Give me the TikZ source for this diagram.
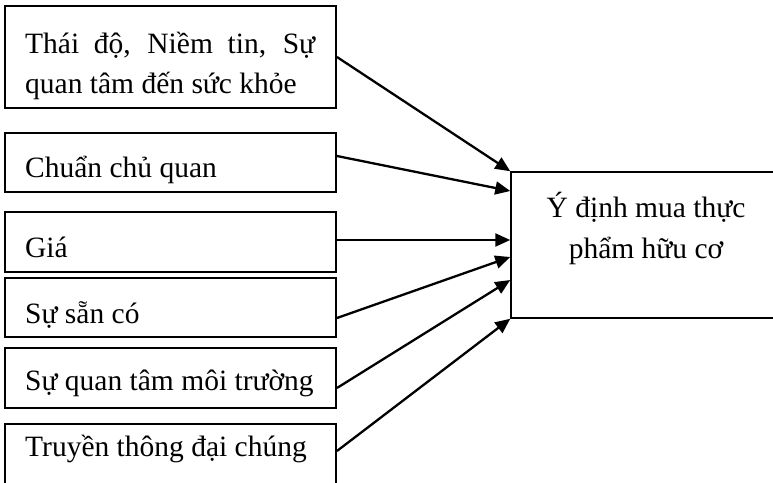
\documentclass[tikz,border=0pt]{standalone}
\usepackage{fontspec}
\setmainfont{Liberation Serif}
\usetikzlibrary{arrows.meta}
\tikzset{
  box/.style={draw, line width=1.9pt, inner sep=0pt, minimum width=331pt},
  tgtbox/.style={draw, line width=1.5pt, inner sep=0pt, minimum width=289pt, minimum height=146pt},
  lbl/.style={anchor=base west, inner sep=0pt, font=\fontsize{29.5pt}{40pt}\selectfont},
  rlbl/.style={anchor=base, inner sep=0pt, font=\fontsize{29.5pt}{41pt}\selectfont},
  link/.style={line width=2.3pt, -{Triangle[length=15pt,width=13pt]}}
}
\begin{document}
\begin{tikzpicture}[x=1pt,y=-1pt]
\useasboundingbox (0,0) rectangle (773,482);
\clip (0,0) rectangle (773,482);
% left boxes
\node[box, minimum height=102pt] (b1) at (170.5,57) {};
\node[box, minimum height=59pt] (b2) at (170.5,162.5) {};
\node[box, minimum height=60pt] (b3) at (170.5,242) {};
\node[box, minimum height=59pt] (b4) at (170.5,307.5) {};
\node[box, minimum height=60pt] (b5) at (170.5,378) {};
\node[box, minimum height=70pt] (b6) at (170.5,459) {};
% target box
\node[tgtbox] (t) at (655.5,245) {};
% labels
\node[lbl] (l1) at (25,53) {\vtop{\baselineskip=40pt\hbox{\makebox[290pt][s]{Thái độ, Niềm tin, Sự}}\hbox{quan tâm đến sức khỏe}}};
\node[lbl] (l2) at (25,177) {Chuẩn chủ quan};
\node[lbl] (l3) at (25,257) {Giá};
\node[lbl] (l4) at (25,323) {Sự sẵn có};
\node[lbl] (l5) at (25,390) {Sự quan tâm môi trường};
\node[lbl] (l6) at (25,456) {Truyền thông đại chúng};
\node[rlbl] (lt) at (646,217) {\vtop{\baselineskip=41pt\hbox to 300pt{\hss Ý định mua thực\hss}\hbox to 300pt{\hss phẩm hữu cơ\hss}}};
% connector ends
\coordinate (s1) at (b1.east);
\coordinate (s2) at ([yshift=6.5pt]b2.east);
\coordinate (s3) at ([yshift=2pt]b3.east);
\coordinate (s4) at ([yshift=-10.5pt]b4.east);
\coordinate (s5) at ([yshift=-10pt]b5.east);
\coordinate (s6) at ([yshift=8pt]b6.east);
\coordinate (e1) at (t.north west);
\coordinate (e2) at ([yshift=54pt]t.west);
\coordinate (e3) at ([yshift=5pt]t.west);
\coordinate (e4) at ([yshift=-12pt]t.west);
\coordinate (e5) at ([yshift=-35pt]t.west);
\coordinate (e6) at (t.south west);
\draw[link] (s1) -- (e1);
\draw[link] (s2) -- (e2);
\draw[link] (s3) -- (e3);
\draw[link] (s4) -- (e4);
\draw[link] (s5) -- (e5);
\draw[link] (s6) -- (e6);
\end{tikzpicture}
\end{document}
